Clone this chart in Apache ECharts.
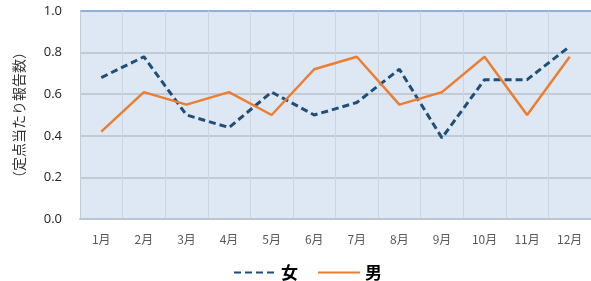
<!DOCTYPE html>
<html>
<head>
<meta charset="utf-8">
<script src="https://cdn.jsdelivr.net/npm/echarts@6/dist/echarts.min.js"></script>
<style>
  html, body { margin: 0; padding: 0; background: #fff; }
  #chart { width: 591px; height: 281px; }
</style>
</head>
<body>
<div id="chart"></div>
<script>
const months = ["1月", "2月", "3月", "4月", "5月", "6月", "7月", "8月", "9月", "10月", "11月", "12月"];
const female = [0.68, 0.78, 0.50, 0.44, 0.61, 0.50, 0.56, 0.72, 0.39, 0.67, 0.67, 0.83];
const male = [0.42, 0.61, 0.55, 0.61, 0.50, 0.72, 0.78, 0.55, 0.61, 0.78, 0.50, 0.78];

const chartDom = document.getElementById("chart");
let myChart = echarts.init(chartDom);

const jpFont = '"Noto Sans CJK JP", "Noto Sans", sans-serif';

let option = {
  animation: false,
  grid: {
    left: 80,
    right: 0,
    top: 11,
    bottom: 62,
    show: true,
    backgroundColor: "#dde8f4",
    borderWidth: 0
  },
  legend: {
    top: 264,
    left: 233,
    padding: 0,
    itemWidth: 42,
    itemHeight: 4,
    itemGap: 19,
    itemStyle: { opacity: 0 },
    textStyle: { fontFamily: jpFont, fontSize: 17, fontWeight: "bold", color: "#000" },
    data: ["女", "男"]
  },
  xAxis: {
    type: "category",
    data: months,
    boundaryGap: true,
    axisLine: { lineStyle: { color: "#b8c6d6", width: 2 } },
    axisTick: { show: false },
    axisLabel: { color: "#595959", fontSize: 12, fontFamily: jpFont, margin: 14 },
    splitLine: { show: true, lineStyle: { color: "#cdd6e0", width: 1 } }
  },
  yAxis: {
    type: "value",
    min: 0,
    max: 1,
    interval: 0.2,
    name: "（定点当たり報告数）",
    nameLocation: "middle",
    nameRotate: 90,
    nameGap: 54,
    nameTextStyle: { fontFamily: jpFont, fontSize: 14, color: "#333" },
    axisLine: { show: true, lineStyle: { color: "#c6ccd4", width: 1 } },
    axisTick: { show: false },
    axisLabel: {
      color: "#222",
      fontSize: 13,
      fontFamily: '"Open Sans", sans-serif',
      margin: 18,
      formatter: (v) => v.toFixed(1)
    },
    splitLine: {
      lineStyle: {
        color: ["#b8c0c8", "#b8c0c8", "#b8c0c8", "#b8c0c8", "#b8c0c8", "#6f9bd0"],
        width: 1.5
      }
    }
  },
  series: [
    {
      name: "女",
      type: "line",
      data: female,
      symbol: "none",
      lineStyle: { color: "#1f4e79", width: 3, type: [7, 4] },
      itemStyle: { color: "#1f4e79" }
    },
    {
      name: "男",
      type: "line",
      data: male,
      symbol: "none",
      lineStyle: { color: "#ed7d31", width: 2.5 },
      itemStyle: { color: "#ed7d31" }
    }
  ]
};

option && myChart.setOption(option);
</script>
</body>
</html>
